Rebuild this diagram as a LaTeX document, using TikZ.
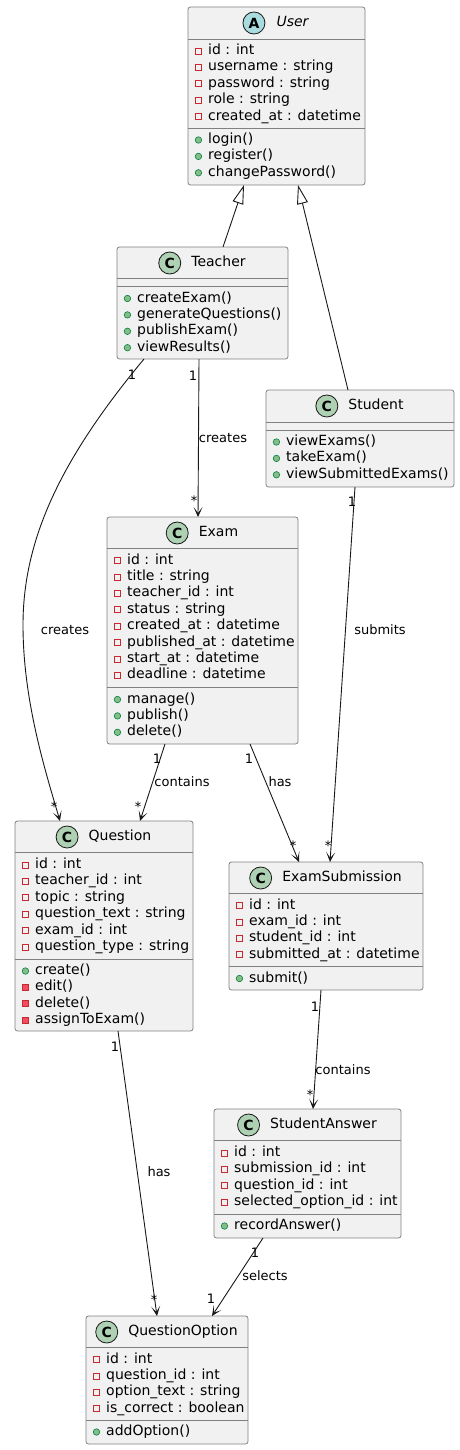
\documentclass[tikz,border=0pt]{standalone}
\usepackage{fontspec}
\setmainfont{DejaVu Sans}
\usepackage{tikz}
\usetikzlibrary{positioning,calc,arrows.meta}
\definecolor{boxfill}{HTML}{F1F1F1}
\definecolor{boxline}{HTML}{808080}
\definecolor{edgeline}{HTML}{181818}
\definecolor{cgreen}{HTML}{ADD1B2}
\definecolor{acyan}{HTML}{A9DCDF}
\definecolor{privred}{HTML}{C82930}
\definecolor{privfill}{HTML}{F24D5C}
\definecolor{pubfill}{HTML}{84BE84}
\definecolor{publine}{HTML}{038048}
\begin{document}
\begin{tikzpicture}[x=1pt,y=-1pt,>={Stealth[length=10pt,width=9pt,inset=6pt]},
    classbox/.style={draw=boxline,fill=boxfill,rounded corners=2.5pt,line width=0.8pt,
                     inner sep=0pt,outer sep=0pt,anchor=north west},
    sepline/.style={draw=boxline,line width=0.8pt},
    ctitle/.style={inner sep=0pt,text height=10pt,text depth=3pt,font=\fontsize{14}{16}\selectfont},
    cicon/.style={circle,draw=edgeline,fill=cgreen,minimum size=22pt,inner sep=0pt,line width=0.8pt,
                  font=\fontsize{14}{14}\selectfont\bfseries},
    aicon/.style={cicon,fill=acyan},
    mem/.style={anchor=west,inner sep=0pt,text height=10pt,text depth=3pt,font=\fontsize{14}{16}\selectfont},
    privsq/.style={rectangle,draw=privred,line width=0.8pt,minimum size=6pt,inner sep=0pt,label distance=6pt},
    privsqf/.style={privsq,fill=privfill},
    pubdot/.style={circle,draw=publine,fill=pubfill,line width=0.6pt,minimum size=6.5pt,inner sep=0pt,label distance=6pt},
    pattr/.style={mem,label={[privsq]left:{}}},
    pmeth/.style={mem,label={[pubdot]left:{}}},
    hmeth/.style={mem,label={[privsqf]left:{}}},
    assoc/.style={->,draw=edgeline,line width=0.9pt},
    inherit/.style={-{Triangle[open,length=19pt,width=11pt]},draw=edgeline,line width=0.9pt},
    elabel/.style={inner sep=0pt,text height=9.5pt,text depth=3pt,font=\fontsize{13}{15}\selectfont}]

  \useasboundingbox (0,0) rectangle (460,1450);

  \node[classbox,minimum width=177pt,minimum height=178pt] (user) at (188,7) {};
  \draw[sepline] (188,39) -- (365,39);
  \draw[sepline] (188,128) -- (365,128);
  \node[ctitle,font=\fontsize{14}{16}\selectfont\itshape] (usert) at ([xshift=16pt,yshift=-16pt]user.north) {User};
  \node[aicon,left=11pt of usert] (usera) {A};
  \node[pattr] (u1) at (208,51) {id : int};
  \node[pattr] (u2) at (208,67.4) {username : string};
  \node[pattr] (u3) at (208,83.8) {password : string};
  \node[pattr] (u4) at (208,100.2) {role : string};
  \node[pattr] (u5) at (208,116.6) {created\_at : datetime};
  \node[pmeth] (u6) at (208,140) {login()};
  \node[pmeth] (u7) at (208,156.4) {register()};
  \node[pmeth] (u8) at (208,172.8) {changePassword()};

  \node[classbox,minimum width=171pt,minimum height=112pt] (teacher) at (117,247) {};
  \draw[sepline] (117,278.5) -- (288,278.5);
  \draw[sepline] (117,286.5) -- (288,286.5);
  \node[ctitle] (teachert) at ([xshift=16pt,yshift=-16pt]teacher.north) {Teacher};
  \node[cicon,left=10pt of teachert] (teacherc) {C};
  \node[pmeth] (t1) at (137,298.5) {createExam()};
  \node[pmeth] (t2) at (137,314.9) {generateQuestions()};
  \node[pmeth] (t3) at (137,331.3) {publishExam()};
  \node[pmeth] (t4) at (137,347.7) {viewResults()};

  \node[classbox,minimum width=188pt,minimum height=97pt] (student) at (266,390) {};
  \draw[sepline] (266,422) -- (454,422);
  \draw[sepline] (266,430) -- (454,430);
  \node[ctitle] (studentt) at ([xshift=16pt,yshift=-16pt]student.north) {Student};
  \node[cicon,left=10pt of studentt] (studentc) {C};
  \node[pmeth] (s1) at (286,442) {viewExams()};
  \node[pmeth] (s2) at (286,458.4) {takeExam()};
  \node[pmeth] (s3) at (286,474.8) {viewSubmittedExams()};

  \node[classbox,minimum width=191pt,minimum height=227pt] (exam) at (107,517) {};
  \draw[sepline] (107,548.5) -- (298,548.5);
  \draw[sepline] (107,687.5) -- (298,687.5);
  \node[ctitle] (examt) at ([xshift=16pt,yshift=-16pt]exam.north) {Exam};
  \node[cicon,left=10pt of examt] (examc) {C};
  \node[pattr] (e1) at (127,560.5) {id : int};
  \node[pattr] (e2) at (127,576.9) {title : string};
  \node[pattr] (e3) at (127,593.3) {teacher\_id : int};
  \node[pattr] (e4) at (127,609.7) {status : string};
  \node[pattr] (e5) at (127,626.1) {created\_at : datetime};
  \node[pattr] (e6) at (127,642.5) {published\_at : datetime};
  \node[pattr] (e7) at (127,658.9) {start\_at : datetime};
  \node[pattr] (e8) at (127,675.3) {deadline : datetime};
  \node[pmeth] (e9) at (127,699.5) {manage()};
  \node[pmeth] (e10) at (127,715.9) {publish()};
  \node[pmeth] (e11) at (127,732.3) {delete()};

  \node[classbox,minimum width=178pt,minimum height=210pt] (question) at (15,821) {};
  \draw[sepline] (15,852.5) -- (193,852.5);
  \draw[sepline] (15,959) -- (193,959);
  \node[ctitle] (questiont) at ([xshift=16pt,yshift=-16pt]question.north) {Question};
  \node[cicon,left=10pt of questiont] (questionc) {C};
  \node[pattr] (q1) at (35,865) {id : int};
  \node[pattr] (q2) at (35,881.4) {teacher\_id : int};
  \node[pattr] (q3) at (35,897.8) {topic : string};
  \node[pattr] (q4) at (35,914.2) {question\_text : string};
  \node[pattr] (q5) at (35,930.6) {exam\_id : int};
  \node[pattr] (q6) at (35,947) {question\_type : string};
  \node[pmeth] (q7) at (35,971) {create()};
  \node[hmeth] (q8) at (35,987.4) {edit()};
  \node[hmeth] (q9) at (35,1003.8) {delete()};
  \node[hmeth] (q10) at (35,1020.2) {assignToExam()};

  \node[classbox,minimum width=194pt,minimum height=128pt] (examsub) at (229,862) {};
  \draw[sepline] (229,893.5) -- (423,893.5);
  \draw[sepline] (229,966) -- (423,966);
  \node[ctitle] (examsubt) at ([xshift=16pt,yshift=-16pt]examsub.north) {ExamSubmission};
  \node[cicon,left=10pt of examsubt] (examsubc) {C};
  \node[pattr] (x1) at (249,905.5) {id : int};
  \node[pattr] (x2) at (249,921.9) {exam\_id : int};
  \node[pattr] (x3) at (249,938.3) {student\_id : int};
  \node[pattr] (x4) at (249,954.7) {submitted\_at : datetime};
  \node[pmeth] (x5) at (249,978.5) {submit()};

  \node[classbox,minimum width=187pt,minimum height=129pt] (answer) at (214,1109) {};
  \draw[sepline] (214,1140.5) -- (401,1140.5);
  \draw[sepline] (214,1214) -- (401,1214);
  \node[ctitle] (answert) at ([xshift=16pt,yshift=-16pt]answer.north) {StudentAnswer};
  \node[cicon,left=10pt of answert] (answerc) {C};
  \node[pattr] (a1) at (234,1153) {id : int};
  \node[pattr] (a2) at (234,1169.4) {submission\_id : int};
  \node[pattr] (a3) at (234,1185.8) {question\_id : int};
  \node[pattr] (a4) at (234,1202.2) {selected\_option\_id : int};
  \node[pmeth] (a5) at (234,1226) {recordAnswer()};

  \node[classbox,minimum width=162pt,minimum height=128pt] (option) at (86,1316) {};
  \draw[sepline] (86,1347.5) -- (248,1347.5);
  \draw[sepline] (86,1420) -- (248,1420);
  \node[ctitle] (optiont) at ([xshift=16pt,yshift=-16pt]option.north) {QuestionOption};
  \node[cicon,left=10pt of optiont] (optionc) {C};
  \node[pattr] (o1) at (106,1359.5) {id : int};
  \node[pattr] (o2) at (106,1375.9) {question\_id : int};
  \node[pattr] (o3) at (106,1392.3) {option\_text : string};
  \node[pattr] (o4) at (106,1408.7) {is\_correct : boolean};
  \node[pmeth] (o5) at (106,1432) {addOption()};

  \draw[inherit] ([xshift=20.5pt]teacher.north) -- ([xshift=-32.5pt]user.south);
  \draw[inherit] ([xshift=-12pt]student.north) -- ([xshift=21.5pt]user.south);

  \draw[assoc] ([xshift=-58.5pt]teacher.south) .. controls (60,460) and (23,540) .. (23,625)
               .. controls (23,700) and (45,770) .. ([xshift=-44pt]question.north);
  \draw[assoc] ([xshift=-3.5pt]teacher.south) -- ([xshift=-4.5pt]exam.north);
  \draw[assoc] ([xshift=-5pt]student.south) -- ([xshift=4pt]examsub.north);
  \draw[assoc] ([xshift=-37.5pt]exam.south) -- ([xshift=36pt]question.north);
  \draw[assoc] ([xshift=47.5pt]exam.south) -- ([xshift=-27pt]examsub.north);
  \draw[assoc] ([xshift=-5pt]examsub.south) -- ([xshift=5.5pt]answer.north);
  \draw[assoc] ([xshift=14pt]question.south) -- ([xshift=-10pt]option.north);
  \draw[assoc] ([xshift=-44.5pt]answer.south) -- ([xshift=45pt]option.north);

  \node[elabel] (tqone) at (132,376.5) {1};
  \node[elabel] (tqlbl) at (65,631) {creates};
  \node[elabel] (tqmany) at (54,808) {*};
  \node[elabel] (teone) at (193,377.5) {1};
  \node[elabel] (telbl) at (223,439) {creates};
  \node[elabel] (temany) at (194,502) {*};
  \node[elabel] (sxone) at (352,503.5) {1};
  \node[elabel] (sxlbl) at (380,631) {submits};
  \node[elabel] (sxmany) at (328,847) {*};
  \node[elabel] (eqone) at (157,760.5) {1};
  \node[elabel] (eqlbl) at (182,783) {contains};
  \node[elabel] (eqmany) at (138,808) {*};
  \node[elabel] (exone) at (249,760.5) {1};
  \node[elabel] (exlbl) at (280,783) {has};
  \node[elabel] (exmany) at (293,847) {*};
  \node[elabel] (xaone) at (315,1008.5) {1};
  \node[elabel] (xalbl) at (343,1071) {contains};
  \node[elabel] (xamany) at (310,1096) {*};
  \node[elabel] (qoone) at (115,1048.5) {1};
  \node[elabel] (qolbl) at (159,1173) {has};
  \node[elabel] (qomany) at (154,1301) {*};
  \node[elabel] (aoone) at (255,1254.5) {1};
  \node[elabel] (aolbl) at (265,1277) {selects};
  \node[elabel] (aotwo) at (211,1300.5) {1};
\end{tikzpicture}
\end{document}
